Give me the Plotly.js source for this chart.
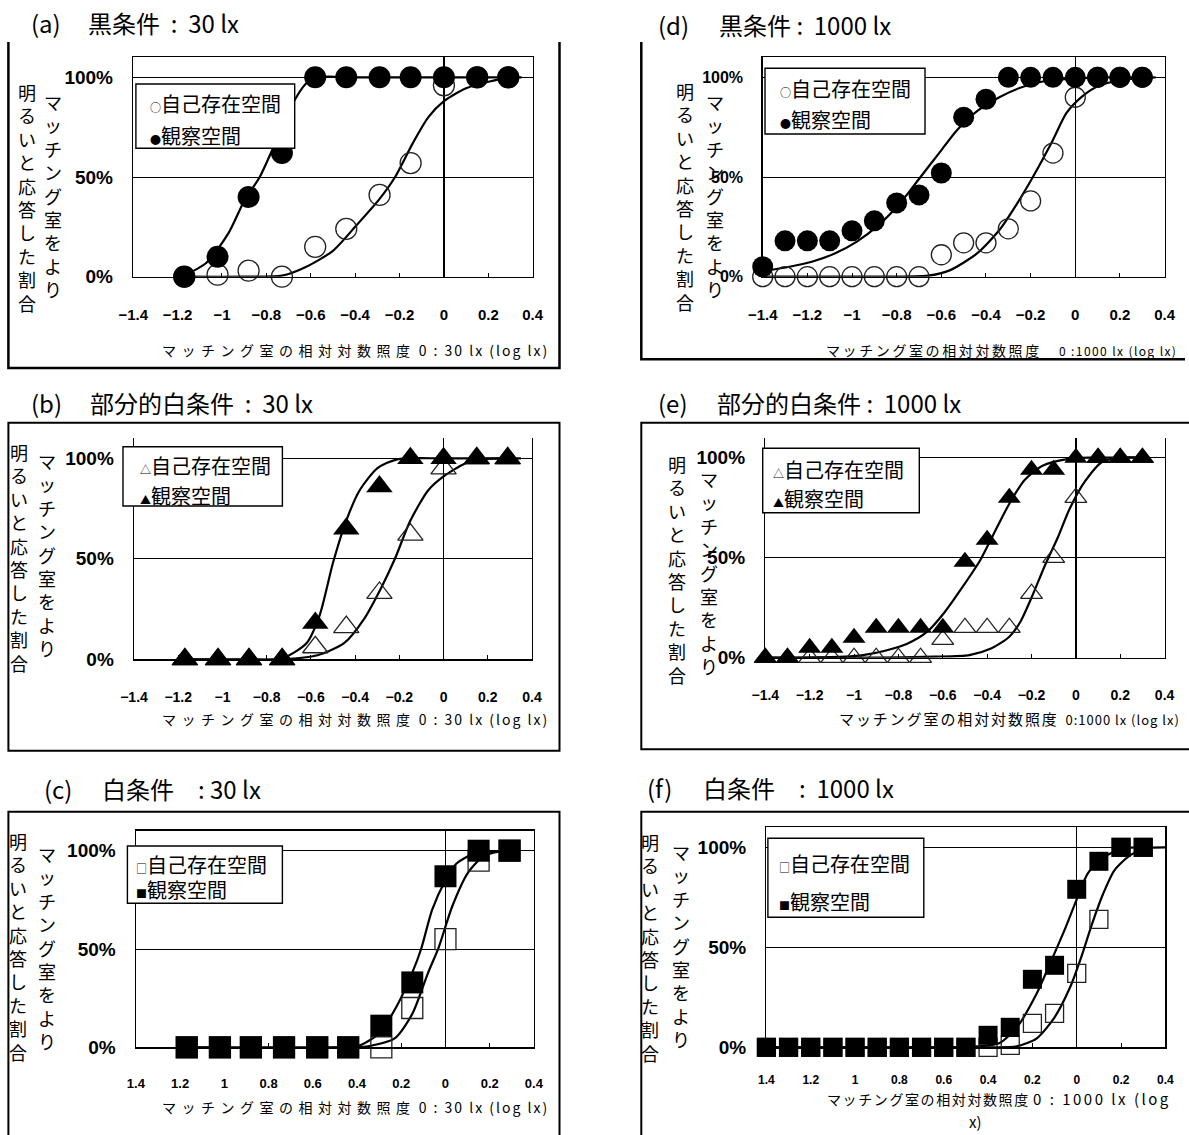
<!DOCTYPE html>
<html>
<head>
<meta charset="utf-8">
<script src="https://cdn.plot.ly/plotly-3.0.1.min.js"></script>
<style>
  html, body { margin: 0; padding: 0; background: #fff; }
  #chart { width: 1189px; height: 1135px; }
</style>
</head>
<body>
<div id="chart"></div>
<script>
// ---- Data: relative illuminance of the matching room (log lx) ----
const x30 = [-1.17, -1.02, -0.88, -0.73, -0.58, -0.44, -0.29, -0.15, 0, 0.15, 0.29];
const x1000 = [-1.4, -1.3, -1.2, -1.1, -1.0, -0.9, -0.8, -0.7, -0.6, -0.5, -0.4, -0.3, -0.2, -0.1, 0, 0.1, 0.2, 0.3];

// Share (%) of answers "the matching room is brighter"
// (a) dark condition, 30 lx
const aSelf = [0, 1, 3, 0, 15, 24, 41, 57, 96, 100, 100];
const aObs  = [0, 10, 40, 62, 100, 100, 100, 100, 100, 100, 100];
// (b) partially white condition, 30 lx
const bSelf = [0, 0, 0, 0, 6, 16, 33, 62, 95, 100, 100];
const bObs  = [0, 0, 0, 0, 18, 65, 86, 100, 100, 100, 100];
// (c) white condition, 30 lx
const cSelf = [0, 0, 0, 0, 0, 0, 0, 20, 55, 95, 100];
const cObs  = [0, 0, 0, 0, 0, 0, 11, 33, 87, 100, 100];
// (d) dark condition, 1000 lx
const dSelf = [0, 0, 0, 0, 0, 0, 0, 0, 11, 17, 17, 24, 38, 62, 90, 100, 100, 100];
const dObs  = [5, 18, 18, 18, 23, 28, 37, 41, 52, 80, 89, 100, 100, 100, 100, 100, 100, 100];
// (e) partially white condition, 1000 lx
const eSelf = [0, 0, 0, 0, 0, 0, 0, 0, 9, 15, 15, 15, 32, 50, 80, 100, 100, 100];
const eObs  = [0, 0, 5, 5, 10, 15, 15, 15, 15, 48, 59, 80, 94, 94, 100, 100, 100, 100];
// (f) white condition, 1000 lx
const fSelf = [0, 0, 0, 0, 0, 0, 0, 0, 0, 0, 0, 1, 12, 17, 37, 64, 100, 100];
const fObs  = [0, 0, 0, 0, 0, 0, 0, 0, 0, 0, 6, 10, 34, 41, 79, 93, 100, 100];

// Fitted psychometric curves, sampled along each curve
const aSelfCurveX = [-1.18, -0.9, -0.73, -0.62, -0.5, -0.4, -0.29, -0.22, -0.14, -0.07, 0, 0.1, 0.21, 0.3];
const aSelfCurveY = [0, 0, 0.5, 5, 13, 25, 39, 50, 67, 80, 88, 94.5, 98, 100];
const aObsCurveX  = [-1.18, -1.07, -0.97, -0.9, -0.83, -0.76, -0.69, -0.62, -0.57, -0.4, 0, 0.35];
const aObsCurveY  = [0, 7, 22, 38, 50, 67, 85, 97, 100, 100, 100, 100];

const bSelfCurveX = [-1.17, -0.73, -0.57, -0.45, -0.36, -0.28, -0.22, -0.15, -0.07, 0, 0.1, 0.19, 0.3];
const bSelfCurveY = [0, 0, 2, 8, 20, 36, 50, 69, 84, 91, 97.5, 99.7, 100];
const bObsCurveX  = [-1.17, -0.9, -0.73, -0.62, -0.56, -0.5, -0.44, -0.38, -0.3, -0.21, 0, 0.35];
const bObsCurveY  = [0, 0, 0.5, 8, 22, 48, 69, 84, 95, 99.5, 100, 100];

const cSelfCurveX = [-1.17, -0.4, -0.35, -0.23, -0.15, -0.08, -0.03, 0.03, 0.1, 0.17, 0.24, 0.3];
const cSelfCurveY = [0, 0, 0.5, 4.5, 17, 37.5, 51, 71.5, 88.5, 97, 99.5, 100];
const cObsCurveX  = [-1.17, -0.5, -0.4, -0.3, -0.22, -0.15, -0.11, -0.06, 0, 0.05, 0.12, 0.2, 0.3];
const cObsCurveY  = [0, 0, 0.5, 7, 21, 38, 50, 70, 85, 93.5, 98, 99.5, 100];

const dSelfCurveX = [-1.4, -0.9, -0.66, -0.56, -0.44, -0.34, -0.26, -0.19, -0.1, -0.04, 0.03, 0.11, 0.23, 0.36];
const dSelfCurveY = [0, 0, 0.5, 3.3, 11.7, 23.4, 36.8, 50, 68.6, 82, 90.3, 96, 99, 100];
const dObsCurveX  = [-1.39, -1.28, -1.18, -1.08, -0.98, -0.88, -0.78, -0.7, -0.61, -0.53, -0.44, -0.34, -0.24, -0.14, 0, 0.15, 0.3];
const dObsCurveY  = [3, 5, 7.5, 11.5, 17.5, 26, 37.5, 49, 62, 73.5, 83, 90, 95, 98, 99.5, 100, 100];

const eSelfCurveX = [-1.4, -0.9, -0.64, -0.48, -0.38, -0.3, -0.25, -0.2, -0.14, -0.08, -0.03, 0.04, 0.12, 0.21, 0.3];
const eSelfCurveY = [0, 0, 0.5, 1.3, 4.7, 10.5, 18, 30, 46, 60.5, 74, 88, 98, 100, 100];
const eObsCurveX  = [-1.4, -1.2, -1.04, -0.96, -0.86, -0.76, -0.67, -0.59, -0.51, -0.43, -0.37, -0.3, -0.23, -0.15, -0.04, 0.06, 0.3];
const eObsCurveY  = [0, 0, 0.5, 1.3, 3.5, 7, 13, 23, 35.5, 49, 62, 77, 89, 96, 99.3, 100, 100];

const fSelfCurveX = [-1.4, -0.4, -0.27, -0.18, -0.1, -0.03, 0.02, 0.07, 0.12, 0.17, 0.24, 0.31, 0.4];
const fSelfCurveY = [0, 0, 0.5, 4.5, 15, 30, 45, 62, 77, 88.5, 96, 99.5, 100];
const fObsCurveX  = [-1.4, -0.6, -0.45, -0.35, -0.27, -0.18, -0.12, -0.05, 0, 0.05, 0.12, 0.21, 0.3];
const fObsCurveY  = [0, 0, 0.5, 2, 10, 27, 42, 60, 74, 87, 95, 99.5, 100];

// Labels
const seriesNames = ['自己存在空間', '観察空間'];
const tickVals = [-1.4, -1.2, -1, -0.8, -0.6, -0.4, -0.2, 0, 0.2, 0.4];
const tickSigned = ['−1.4', '−1.2', '−1', '−0.8', '−0.6', '−0.4', '−0.2', '0', '0.2', '0.4'];
const tickUnsigned = ['1.4', '1.2', '1', '0.8', '0.6', '0.4', '0.2', '0', '0.2', '0.4'];
const pctVals = [0, 50, 100];
const pctText = ['0%', '50%', '100%'];
const yTitleOuter = '明るいと応答した割合';
const yTitleInner = 'マッチング室をより';
const xTitleCjk = 'マッチング室の相対対数照度';

// ---- Page geometry (pixels on a 1189 x 1135 page) ----
const W = 1189, H = 1135;
const PX = v => v / W;
const PY = v => 1 - v / H;
const CJK = 'Noto Sans CJK JP';
const LAT = 'Liberation Sans';

const panels = [
  { label: '(a)', heading: '黒条件&nbsp;&nbsp;:&nbsp;&nbsp;30 lx', labelX: 28.7, headX: 86, titleY: 23,
    plot: { l: 133.2, r: 532.7, y0: 276.7, y100: 77.3 }, topLine: true,
    tickSize: 15, tickStand: 24, pctSize: 19, ticks: tickSigned, symbol: 'circle', size: 22,
    x: x30, self: aSelf, obs: aObs,
    selfCurve: [aSelfCurveX, aSelfCurveY], obsCurve: [aObsCurveX, aObsCurveY],
    frame: [[8.4, 42], [8.4, 368], [559.5, 368], [559.5, 42]], frameW: 2.5, closed: false,
    legBox: [135.9, 84, 294.7, 148.3], legX: 147.5, legY: [103.3, 135], sym: ['○', '●'],
    cols: { outerX: 27, outerTop: 83, innerX: 53, innerTop: 93 },
    xt: { right: 551, y: 350, cs: 14, csp: 5.5, ls: 14, lsp: 2, gap: '&nbsp;', latin: '0 : 30 lx (log lx)' } },
  { label: '(b)', heading: '部分的白条件&nbsp;&nbsp;:&nbsp;&nbsp;30 lx', labelX: 28.7, headX: 88, titleY: 403,
    plot: { l: 134, r: 532, y0: 659.3, y100: 458.3 }, topLine: false,
    tickSize: 14, tickStand: 24, pctSize: 19, ticks: tickSigned, symbol: 'triangle-up', size: 23,
    x: x30, self: bSelf, obs: bObs,
    selfCurve: [bSelfCurveX, bSelfCurveY], obsCurve: [bObsCurveX, bObsCurveY],
    frame: [[8.4, 422.7], [559.5, 422.7], [559.5, 750.7], [8.4, 750.7]], frameW: 2, closed: true,
    legBox: [123, 446.7, 282.4, 506], legX: 138, legY: [466, 495], sym: ['△', '▲'],
    cols: { outerX: 19, outerTop: 443, innerX: 47, innerTop: 452 },
    xt: { right: 551, y: 719, cs: 14, csp: 5.5, ls: 14, lsp: 2, gap: '&nbsp;', latin: '0 : 30 lx (log lx)' } },
  { label: '(c)', heading: '白条件　:&nbsp;30 lx', labelX: 42, headX: 99.5, titleY: 788,
    plot: { l: 135.9, r: 533.9, y0: 1047.3, y100: 850.7 }, topLine: true,
    tickSize: 13, tickStand: 23, pctSize: 19, ticks: tickUnsigned, symbol: 'square', size: 22,
    x: x30, self: cSelf, obs: cObs,
    selfCurve: [cSelfCurveX, cSelfCurveY], obsCurve: [cObsCurveX, cObsCurveY],
    frame: [[8.4, 1135], [8.4, 811.7], [559.5, 811.7], [559.5, 1135]], frameW: 2, closed: false,
    legBox: [127.4, 846, 282.4, 903.3], legX: 134, legY: [864, 889], sym: ['□', '■'],
    cols: { outerX: 18, outerTop: 831.7, innerX: 47, innerTop: 845 },
    xt: { right: 551, y: 1107, cs: 14, csp: 5.5, ls: 14, lsp: 2, gap: '&nbsp;', latin: '0 : 30 lx (log lx)' } },
  { label: '(d)', heading: '黒条件&nbsp;:&nbsp;&nbsp;1000 lx', labelX: 656.3, headX: 716.5, titleY: 25,
    plot: { l: 762.7, r: 1164.6, y0: 276.7, y100: 77.3 }, topLine: true,
    tickSize: 15, tickStand: 24, pctSize: 16, ticks: tickSigned, symbol: 'circle', size: 21,
    x: x1000, self: dSelf, obs: dObs,
    selfCurve: [dSelfCurveX, dSelfCurveY], obsCurve: [dObsCurveX, dObsCurveY],
    frame: [[641.3, 42], [641.3, 359.3], [1185, 359.3]], frameW: 2.5, closed: false,
    legBox: [765, 68.3, 925, 134], legX: 777.5, legY: [88.3, 119], sym: ['○', '●'],
    cols: { outerX: 685, outerTop: 82, innerX: 715, innerTop: 93 },
    xt: { right: 1178.5, y: 350, cs: 14, csp: 2.6, ls: 12, lsp: 1.4, gap: '　&nbsp;', latin: '0 :1000 lx (log lx)' } },
  { label: '(e)', heading: '部分的白条件&nbsp;:&nbsp;&nbsp;1000 lx', labelX: 656.3, headX: 714.6, titleY: 403,
    plot: { l: 765.3, r: 1164.6, y0: 657.7, y100: 457.7 }, topLine: false,
    tickSize: 14, tickStand: 24, pctSize: 19, ticks: tickSigned, symbol: 'triangle-up', size: 20,
    x: x1000, self: eSelf, obs: eObs,
    selfCurve: [eSelfCurveX, eSelfCurveY], obsCurve: [eObsCurveX, eObsCurveY],
    frame: [[1189, 422.7], [641.3, 422.7], [641.3, 749.3], [1189, 749.3]], frameW: 2, closed: false,
    legBox: [762.7, 448.3, 919.3, 512.7], legX: 771, legY: [469.3, 498.3], sym: ['△', '▲'],
    cols: { outerX: 677, outerTop: 455, innerX: 708.5, innerTop: 470 },
    xt: { right: 1181.7, y: 719, cs: 15, csp: 1.9, ls: 13, lsp: 1, gap: '&nbsp;&nbsp;', latin: '0:1000 lx (log lx)' } },
  { label: '(f)', heading: '白条件　:&nbsp;&nbsp;1000 lx', labelX: 645, headX: 701, titleY: 787,
    plot: { l: 766.4, r: 1165.4, y0: 1047.3, y100: 847.3 }, topLine: true,
    tickSize: 12, tickStand: 21, pctSize: 19, ticks: tickUnsigned, symbol: 'square', size: 19,
    x: x1000, self: fSelf, obs: fObs,
    selfCurve: [fSelfCurveX, fSelfCurveY], obsCurve: [fObsCurveX, fObsCurveY],
    frame: [[641.3, 1135], [641.3, 811.7], [1189, 811.7]], frameW: 2, closed: false,
    legBox: [767.9, 838.3, 923.8, 917.3], legX: 776.7, legY: [863.3, 901.7], sym: ['□', '■'],
    cols: { outerX: 650, outerTop: 833.3, innerX: 681, innerTop: 843.3 },
    xt: { right: 1173, y: 1098, cs: 14, csp: 1.6, ls: 15, lsp: 2.5, gap: '&nbsp;', latin: '0 : 1000 lx (log', wrap: { text: 'x)', x: 975, y: 1121 } } }
];

const vert = s => Array.from(s).join('<br>');
const traces = [];
const layout = {
  width: W, height: H,
  margin: { l: 0, r: 0, t: 0, b: 0 },
  paper_bgcolor: '#fff', plot_bgcolor: '#fff',
  showlegend: false,
  shapes: [], annotations: []
};

function textAnn(x, y, text, size, opts) {
  return Object.assign({
    xref: 'paper', yref: 'paper', x: PX(x), y: PY(y), text: text,
    showarrow: false, xanchor: 'left', yanchor: 'middle',
    font: { family: CJK, size: size, color: '#000' }
  }, opts || {});
}

panels.forEach((p, i) => {
  const n = i === 0 ? '' : String(i + 1);
  const xa = 'x' + n, ya = 'y' + n;
  const span = p.plot.y0 - p.plot.y100;
  const topPx = p.plot.y0 - 1.1 * span;

  layout['xaxis' + n] = {
    domain: [PX(p.plot.l), PX(p.plot.r)], anchor: ya,
    range: [-1.4, 0.4], fixedrange: true,
    tickmode: 'array', tickvals: tickVals, ticktext: p.ticks,
    ticks: 'inside', ticklen: 4, tickwidth: 1, tickcolor: '#000',
    ticklabelstandoff: p.tickStand,
    tickfont: { family: LAT, size: p.tickSize, weight: 'bold', color: '#000' },
    showgrid: false,
    zeroline: true, zerolinecolor: '#000', zerolinewidth: 1.3,
    showline: true, linecolor: '#000', linewidth: 1.6, mirror: p.topLine
  };
  layout['yaxis' + n] = {
    domain: [PY(p.plot.y0), PY(topPx)], anchor: xa,
    range: [0, 110], fixedrange: true,
    tickmode: 'array', tickvals: pctVals, ticktext: pctText,
    ticks: '', ticklabelstandoff: 15,
    tickfont: { family: LAT, size: p.pctSize, weight: 'bold', color: '#000' },
    showgrid: true, gridcolor: '#000', gridwidth: 1,
    zeroline: false,
    showline: true, linecolor: '#000', linewidth: 1.4, mirror: true
  };

  const curveLine = { color: '#000', width: 2.2, shape: 'spline', smoothing: 0.7 };
  traces.push({ type: 'scatter', mode: 'lines', x: p.selfCurve[0], y: p.selfCurve[1],
    xaxis: xa, yaxis: ya, line: curveLine, hoverinfo: 'skip', showlegend: false });
  traces.push({ type: 'scatter', mode: 'lines', x: p.obsCurve[0], y: p.obsCurve[1],
    xaxis: xa, yaxis: ya, line: curveLine, hoverinfo: 'skip', showlegend: false });
  traces.push({ type: 'scatter', mode: 'markers', name: seriesNames[0], x: p.x, y: p.self,
    xaxis: xa, yaxis: ya, cliponaxis: false, showlegend: false,
    marker: { symbol: p.symbol + '-open', size: p.size - 1, color: '#222', line: { width: 1.3 } } });
  traces.push({ type: 'scatter', mode: 'markers', name: seriesNames[1], x: p.x, y: p.obs,
    xaxis: xa, yaxis: ya, cliponaxis: false, showlegend: false,
    marker: { symbol: p.symbol, size: p.size, color: '#000', line: { width: 0 } } });

  // outer chart frame
  const path = p.frame.map((pt, k) => (k ? 'L' : 'M') + PX(pt[0]) + ',' + PY(pt[1])).join(' ') + (p.closed ? ' Z' : '');
  layout.shapes.push({ type: 'path', xref: 'paper', yref: 'paper', path: path,
    line: { color: '#000', width: p.frameW } });

  // legend box and entries
  const lb = p.legBox;
  layout.shapes.push({ type: 'rect', xref: 'paper', yref: 'paper',
    x0: PX(lb[0]), x1: PX(lb[2]), y0: PY(lb[3]), y1: PY(lb[1]),
    fillcolor: '#fff', line: { color: '#000', width: 1.4 } });
  seriesNames.forEach((name, k) => {
    layout.annotations.push(textAnn(p.legX, p.legY[k],
      '<span style="font-size:11px">' + p.sym[k] + '</span>' + name, 20));
  });

  // panel heading
  layout.annotations.push(textAnn(p.labelX, p.titleY, p.label, 24));
  layout.annotations.push(textAnn(p.headX, p.titleY, p.heading, 24));

  // vertical y-axis title, two columns
  layout.annotations.push(textAnn(p.cols.outerX, p.cols.outerTop - 6, vert(yTitleOuter), 18,
    { xanchor: 'center', yanchor: 'top' }));
  layout.annotations.push(textAnn(p.cols.innerX, p.cols.innerTop - 6, vert(yTitleInner), 18,
    { xanchor: 'center', yanchor: 'top' }));

  // x-axis title
  const t = p.xt;
  const xtText = '<span style="font-size:' + t.cs + 'px;letter-spacing:' + t.csp + 'px">' + xTitleCjk + '</span>' + t.gap +
    '<span style="font-size:' + t.ls + 'px;letter-spacing:' + t.lsp + 'px">' + t.latin + '</span>';
  layout.annotations.push(textAnn(t.right, t.y, xtText, t.cs, { xanchor: 'right' }));
  if (t.wrap) {
    layout.annotations.push(textAnn(t.wrap.x, t.wrap.y, t.wrap.text, t.ls, { xanchor: 'center' }));
  }
});

Plotly.newPlot('chart', traces, layout, { staticPlot: true, displayModeBar: false });
</script>
</body>
</html>
